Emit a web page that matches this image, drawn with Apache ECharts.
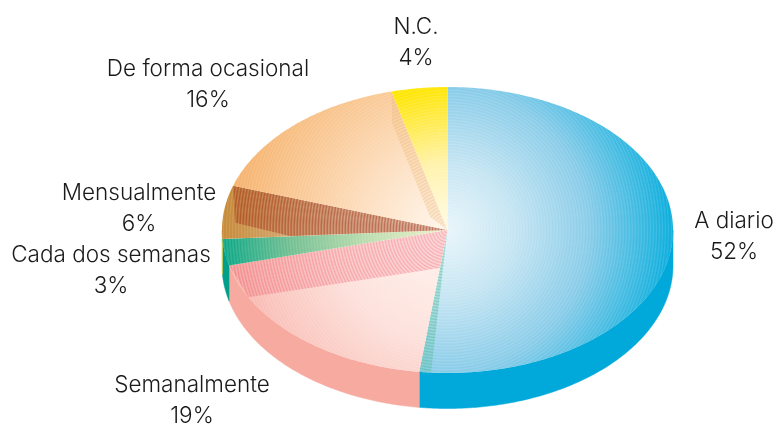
<!DOCTYPE html>
<html>
<head>
<meta charset="utf-8">
<style>html,body{margin:0;background:#fff}#chart{width:781px;height:424px}</style>
<script src="https://cdn.jsdelivr.net/npm/echarts@6/dist/echarts.min.js"></script>
</head>
<body>
<div id="chart"></div>
<script>
var categories = ['A diario', 'Semanalmente', 'Cada dos semanas', 'Mensualmente', 'De forma ocasional', 'N.C.'];
var shares = [52, 19, 3, 6, 16, 4];

var wallColors = ['#00a9d9', '#f7aba0', '#009f8c', '#d9d050', '#f5ae66', '#ffe500'];
var ramps = [
	[[0, '#e8f5fa'], [.3, '#c3e4f2'], [.63, '#86cbe8'], [1, '#05acdc']],
	[[0, '#fff4f0'], [.5, '#fde0da'], [.85, '#f9c2ba'], [1, '#f7b0a6']],
	[[0, '#eef2c8'], [.35, '#bcdcae'], [.7, '#70be90'], [1, '#08a684']],
	[[0, '#f0e0d0'], [.5, '#dcb890'], [1, '#c48632']],
	[[0, '#fff6ec'], [.35, '#fde0c2'], [.7, '#f9c690'], [1, '#f5ae66']],
	[[0, '#fffbe6'], [.3, '#fff2a8'], [.63, '#ffe500'], [1, '#ffe500']]
];
// darker folds on some slices: [fraction of slice angle, fraction of radius]
var folds = [
	{ pts: [[0, 0], [.984, 1], [1, 1]], color: '90,190,160', alpha: 0.6 },
	{ pts: [[0, 0], [.001, .268], [.8, 1], [1, 1]], color: '236,80,100', alpha: 0.4 },
	null,
	{ pts: [[0, 0], [.01, .7], [.31, .943], [1, 1]], color: '165,55,30', alpha: 0.62 },
	{ pts: [[1, 0], [.555, .121], [.934, .787], [1, 1]], color: '235,180,110', alpha: 0.42 },
	null
];
var labelPos = [[734, 237], [192, 401], [111, 271], [139, 209], [208, 85], [416, 43]];

var cx = 447.5, cy = 230, rx = 225.5, ry = 143, depth = 35.5;
var total = shares.reduce(function(a, b) { return a + b; }, 0);

function rgb(hex) {
	return [parseInt(hex.substr(1, 2), 16), parseInt(hex.substr(3, 2), 16), parseInt(hex.substr(5, 2), 16)];
}

function rampAt(ramp, t) {
	for(var i = 1; i < ramp.length; i++) {
		if(t <= ramp[i][0]) {
			var k = (t - ramp[i - 1][0]) / (ramp[i][0] - ramp[i - 1][0]);
			var a = rgb(ramp[i - 1][1]), b = rgb(ramp[i][1]);
			return [a[0] + (b[0] - a[0]) * k, a[1] + (b[1] - a[1]) * k, a[2] + (b[2] - a[2]) * k];
		}
	}
	return rgb(ramp[ramp.length - 1][1]);
}

// circular blend with fine alternating rings, like the original's stepped blend
function ringFill(ramp) {
	var stops = [];
	var n = 150;
	for(var i = 0; i <= n; i++) {
		var t = i / n;
		var c = rampAt(ramp, t);
		var m = i % 2 ? 0.14 : 0;
		stops.push({
			offset: t,
			color: 'rgb(' + [0, 1, 2].map(function(j) {
				return Math.round(c[j] + (255 - c[j]) * m);
			}).join(',') + ')'
		});
	}
	return { type: 'radial', x: cx, y: cy, r: rx, global: true, colorStops: stops };
}

function foldFill(fold) {
	var stops = [];
	var n = 150;
	for(var i = 0; i <= n; i++) {
		stops.push({
			offset: i / n,
			color: 'rgba(' + fold.color + ',' + (i % 2 ? fold.alpha * 0.35 : fold.alpha) + ')'
		});
	}
	return { type: 'radial', x: cx, y: cy, r: rx, global: true, colorStops: stops };
}

function startAngle(i) {
	var s = 0;
	for(var j = 0; j < i; j++) s += shares[j];
	return s / total * Math.PI * 2;
}

function pt(a, r, dy) {
	return [cx + rx * r * Math.sin(a), cy - ry * r * Math.cos(a) + (dy || 0)];
}

function arc(a0, a1, dy) {
	var pts = [];
	var steps = Math.max(2, Math.ceil(Math.abs(a1 - a0) / 0.01));
	for(var i = 0; i <= steps; i++) {
		pts.push(pt(a0 + (a1 - a0) * i / steps, 1, dy));
	}
	return pts;
}

function renderWall(params) {
	var i = params.dataIndex;
	var a0 = Math.max(startAngle(i), Math.PI / 2);
	var a1 = Math.min(startAngle(i + 1), Math.PI * 1.5);
	if(a1 <= a0) return null;
	return {
		type: 'polygon',
		shape: { points: arc(a0, a1, 0).concat(arc(a1, a0, depth)) },
		style: { fill: wallColors[i], stroke: wallColors[i], lineWidth: 0.5 }
	};
}

function renderTop(params) {
	var i = params.dataIndex;
	var a0 = startAngle(i), a1 = startAngle(i + 1);
	var children = [{
		type: 'polygon',
		shape: { points: [[cx, cy]].concat(arc(a0, a1, 0)) },
		style: { fill: ringFill(ramps[i]) }
	}];
	if(folds[i]) {
		var pts = [];
		folds[i].pts.forEach(function(p) {
			pts.push(pt(a0 + (a1 - a0) * p[0], p[1]));
		});
		children.push({
			type: 'polygon',
			shape: { points: pts },
			style: { fill: foldFill(folds[i]) }
		});
	}
	children.push({
		type: 'text',
		style: {
			x: labelPos[i][0],
			y: labelPos[i][1],
			text: categories[i] + '\n' + shares[i] + '%',
			align: 'center',
			verticalAlign: 'middle',
			fill: '#1a1a1a',
			lineHeight: 31,
			font: '300 22.5px Inter'
		}
	});
	return { type: 'group', children: children };
}

var chart = echarts.init(document.getElementById('chart'));
chart.setOption({
	animation: false,
	series: [{
		type: 'custom',
		coordinateSystem: 'none',
		silent: true,
		z: 1,
		renderItem: renderWall,
		data: shares
	}, {
		type: 'custom',
		coordinateSystem: 'none',
		silent: true,
		z: 2,
		renderItem: renderTop,
		data: shares
	}]
});
</script>
</body>
</html>
